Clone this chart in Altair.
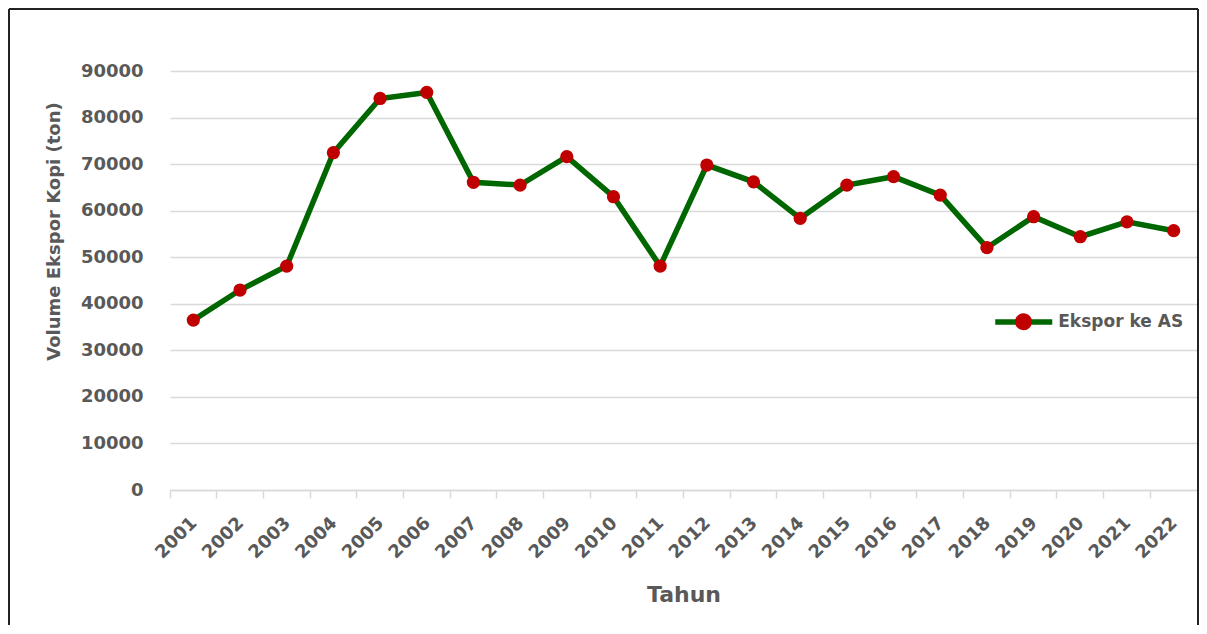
import altair as alt
import pandas as pd

years = ["2001", "2002", "2003", "2004", "2005", "2006", "2007", "2008", "2009", "2010", "2011",
         "2012", "2013", "2014", "2015", "2016", "2017", "2018", "2019", "2020", "2021", "2022"]
volume = [36500, 42950, 48100, 72450, 84100, 85400, 66100, 65500, 71600, 63000, 48100,
          69800, 66200, 58350, 65500, 67300, 63350, 52050, 58700, 54400, 57600, 55700]
series_name = "Ekspor ke AS"
y_ticks = [0, 10000, 20000, 30000, 40000, 50000, 60000, 70000, 80000, 90000]

df = pd.DataFrame({"Tahun": years, "Volume": volume, "Seri": [series_name] * len(years)})

FONT = "DejaVu Sans"
GRAY = "#595959"
GRID = "#d9d9d9"
W, H = 1027, 419
SW = 5.5
CIRCLE = "M-0.3,0A0.3,0.3,0,1,1,0.3,0A0.3,0.3,0,1,1,-0.3,0Z"
LEG_X, LEG_Y = 822.25, 219.5

x_enc = alt.X(
    "Tahun:N", sort=years,
    scale=alt.Scale(type="band", paddingInner=0, paddingOuter=0),
    axis=alt.Axis(
        title="Tahun", labelAngle=-45, labelAlign="right", labelBaseline="middle",
        bandPosition=0, labelOffset=1,
        labelFontSize=18, labelFontWeight="bold", labelColor=GRAY, labelPadding=22,
        tickSize=8, tickColor=GRID, tickWidth=1.5, domainColor=GRID, domainWidth=1.5,
        titleFontSize=22, titleFontWeight="bold", titleColor=GRAY, titlePadding=23,
    ),
)
y_enc = alt.Y(
    "Volume:Q",
    scale=alt.Scale(domain=[0, 90000]),
    axis=alt.Axis(
        values=y_ticks, format="d", grid=True, gridColor=GRID, gridWidth=1.5,
        domain=False, ticks=False, labelFontSize=18, labelFontWeight="bold",
        labelColor=GRAY, labelPadding=27,
        title="Volume Ekspor Kopi (ton)", titleFontSize=18, titleFontWeight="bold",
        titleColor=GRAY, titleX=-107, titleY=160,
    ),
)

base = alt.Chart(df)

line = base.mark_line(strokeWidth=SW).encode(
    x=x_enc, y=y_enc,
    color=alt.Color(
        "Seri:N", scale=alt.Scale(range=["#006600"]),
        legend=alt.Legend(
            title=None, orient="none", legendX=LEG_X, legendY=LEG_Y, padding=0,
            symbolType="stroke", symbolSize=3249, symbolStrokeWidth=SW,
            labelFontSize=17, labelFontWeight="bold", labelColor=GRAY, labelOffset=3,
        ),
    ),
)

points = base.mark_circle(size=175, opacity=1).encode(
    x=x_enc, y=y_enc,
    fill=alt.Fill(
        "Seri:N", scale=alt.Scale(range=["#c00000"]),
        legend=alt.Legend(
            title=None, orient="none", legendX=LEG_X + SW / 2, legendY=LEG_Y + SW / 2,
            padding=0, symbolType=CIRCLE, symbolSize=3249, symbolStrokeWidth=0,
            symbolOpacity=1, labelExpr="''", labelFontSize=17, labelOffset=3,
        ),
    ),
)

frame_src = alt.Chart(pd.DataFrame({"f": [0]}))
frame_style = dict(stroke="#222222", strokeWidth=2, clip=False)
frame_left = frame_src.mark_rule(**frame_style).encode(
    x=alt.value(-161), y=alt.value(-62), y2=alt.value(554))
frame_right = frame_src.mark_rule(**frame_style).encode(
    x=alt.value(1028), y=alt.value(-62), y2=alt.value(554))
frame_top = frame_src.mark_rule(**frame_style).encode(
    x=alt.value(-161), x2=alt.value(1028), y=alt.value(-62))

chart = alt.layer(frame_left, frame_right, frame_top, line, points).properties(
    width=W, height=H, padding=0
).configure(font=FONT, background="white").configure_view(stroke=None)

chart.save("out.html", embed_options={"renderer": "svg", "actions": False})
